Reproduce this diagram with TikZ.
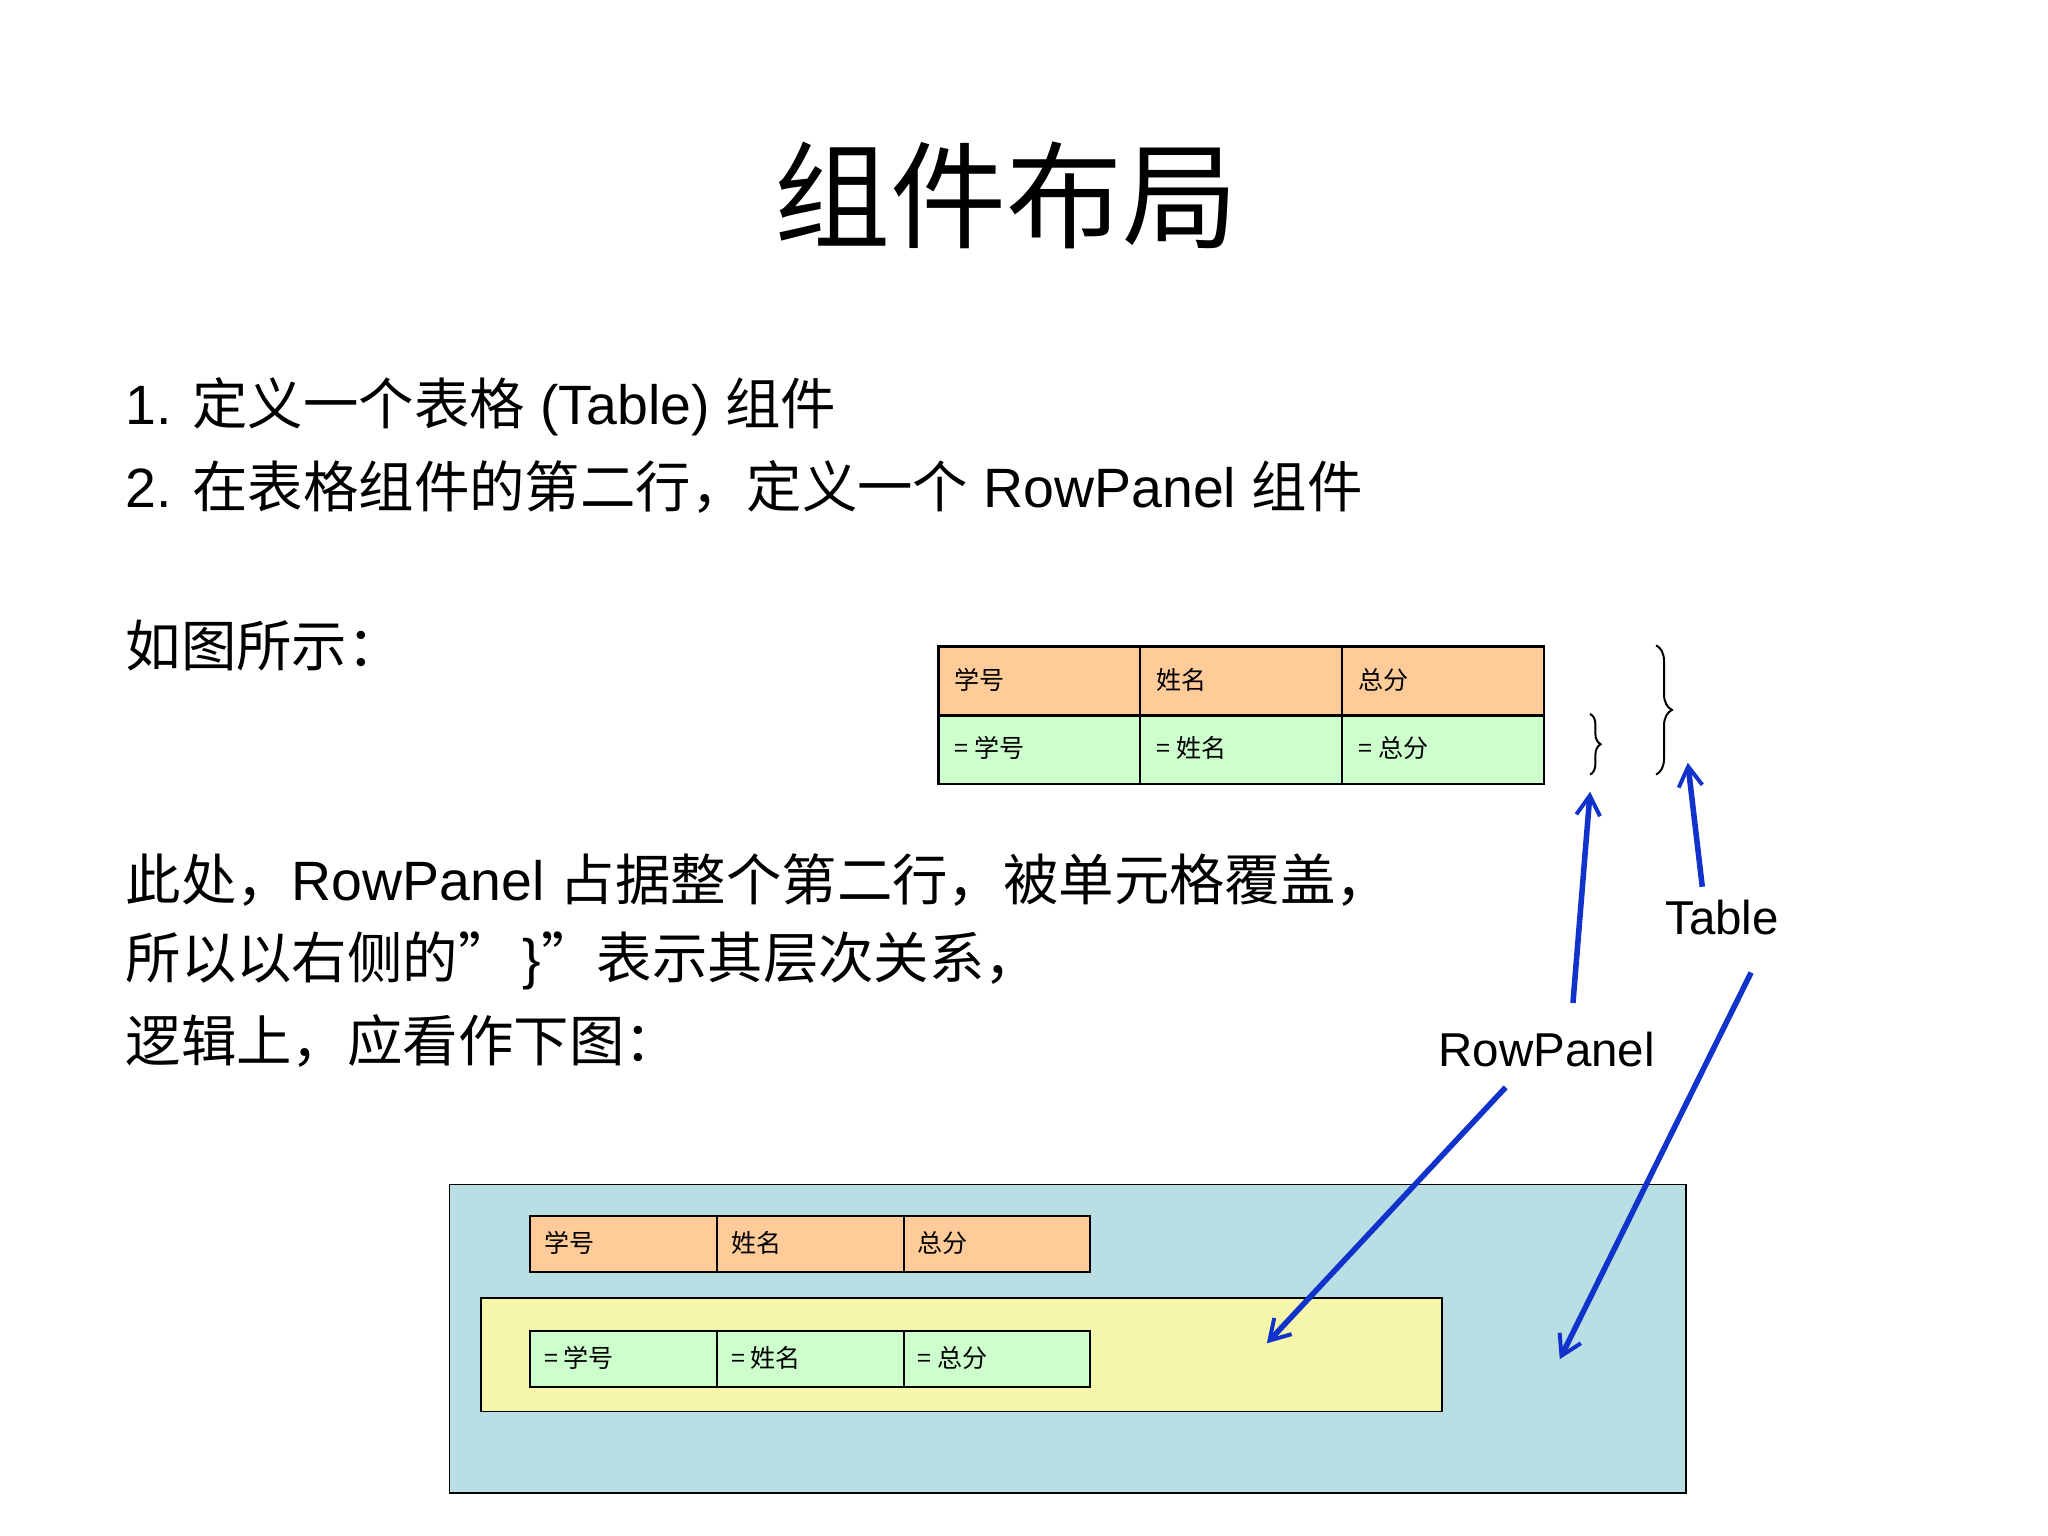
\documentclass[tikz,border=0pt]{standalone}
\usepackage{fontspec}
\setmainfont{Liberation Sans}
\newfontfamily\cjk{Noto Sans CJK SC}
\usetikzlibrary{arrows.meta,decorations.pathreplacing}
\definecolor{org}{HTML}{FFCC99}
\definecolor{grn}{HTML}{CCFFCC}
\definecolor{bluebox}{HTML}{B9DFE4}
\definecolor{ylw}{HTML}{F6F6AA}
\definecolor{arr}{HTML}{1133CC}
\begin{document}
\begin{tikzpicture}[x=1pt,y=-1pt,
  txt/.style={anchor=west,inner sep=0pt,font=\fontsize{42}{50}\selectfont},
  cell/.style={draw=black,line width=2pt,anchor=north west,minimum height=52pt,minimum width=153pt,inner sep=0pt},
  cellb/.style={draw=black,line width=1.6pt,anchor=north west,minimum height=42pt,minimum width=141.5pt,inner sep=0pt},
  ct/.style={font=\cjk\fontsize{19}{22}\selectfont,anchor=west},
  ar/.style={draw=arr,line width=4.2pt,-{Straight Barb[length=15pt,width=18pt,line width=3pt]}},
  lbl/.style={font=\fontsize{36}{40}\selectfont,inner sep=0pt}]
\useasboundingbox (0,0) rectangle (1552,1164);
\fill[white] (0,0) rectangle (1552,1164);
\node[font=\cjk\fontsize{88}{96}\selectfont,inner sep=0pt] (title) at (763,148) {组件布局};
\node[txt] (l1) at (95,308) {1. {\cjk 定义一个表格} (Table) {\cjk 组件}};
\node[txt] (l2) at (95,369) {2. {\cjk 在表格组件的第二行，定义一个} RowPanel {\cjk 组件}};
\node[txt] (l3) at (95,489) {{\cjk 如图所示：}};
\node[txt] (p1) at (95,667) {{\cjk 此处，}RowPanel {\cjk 占据整个第二行，被单元格覆盖，}};
\node[txt] (p2) at (95,728) {{\cjk 所以以右侧的”}\,\}{\cjk ”表示其层次关系，}};
\node[txt] (p3) at (95,789) {{\cjk 逻辑上，应看作下图：}};
% top table
\foreach \i/\x/\a in {1/710/学号,2/863/姓名,3/1016/总分}{
  \node[cell,fill=org] (h\i) at (\x,489) {};
  \node[ct] at (\x+10,515) {\a};
  \node[cell,fill=grn] (r\i) at (\x,541) {};
  \node[ct] at (\x+10,567) {= \a};
}
\draw[line width=1.5pt,decoration={brace,amplitude=8pt},decorate] (1205,541) -- (1205,587);
\draw[line width=1.5pt,decoration={brace,amplitude=12pt},decorate] (1255,489) -- (1255,587);
\coordinate (rpb) at (1205,600);
\coordinate (tb) at (1279,578);
\node[lbl] (tbl) at (1305,695) {Table};
\node[lbl] (rp) at (1172,795) {RowPanel};
% bottom
\node[draw=black,line width=1.3pt,fill=bluebox,anchor=north west,minimum width=937pt,minimum height=234pt,inner sep=0pt] (tab) at (340,897) {};
\node[draw=black,line width=1.3pt,fill=ylw,anchor=north west,minimum width=728pt,minimum height=86pt,inner sep=0pt] (rpan) at (364,983) {};
\foreach \i/\x/\a in {1/401/学号,2/542.5/姓名,3/684/总分}{
  \node[cellb,fill=org] (bh\i) at (\x,921) {};
  \node[ct] at (\x+8,942) {\a};
  \node[cellb,fill=grn] (br\i) at (\x,1008) {};
  \node[ct] at (\x+8,1029) {= \a};
}
\coordinate (rpt) at (960,1018);
\coordinate (tt) at (1182,1030);
\draw[ar] (1192,760) -- (rpb);
\draw[ar] (1290,672) -- (tb);
\draw[ar] (1141,824) -- (rpt);
\draw[ar] (1327,737) -- (tt);
\end{tikzpicture}
\end{document}
